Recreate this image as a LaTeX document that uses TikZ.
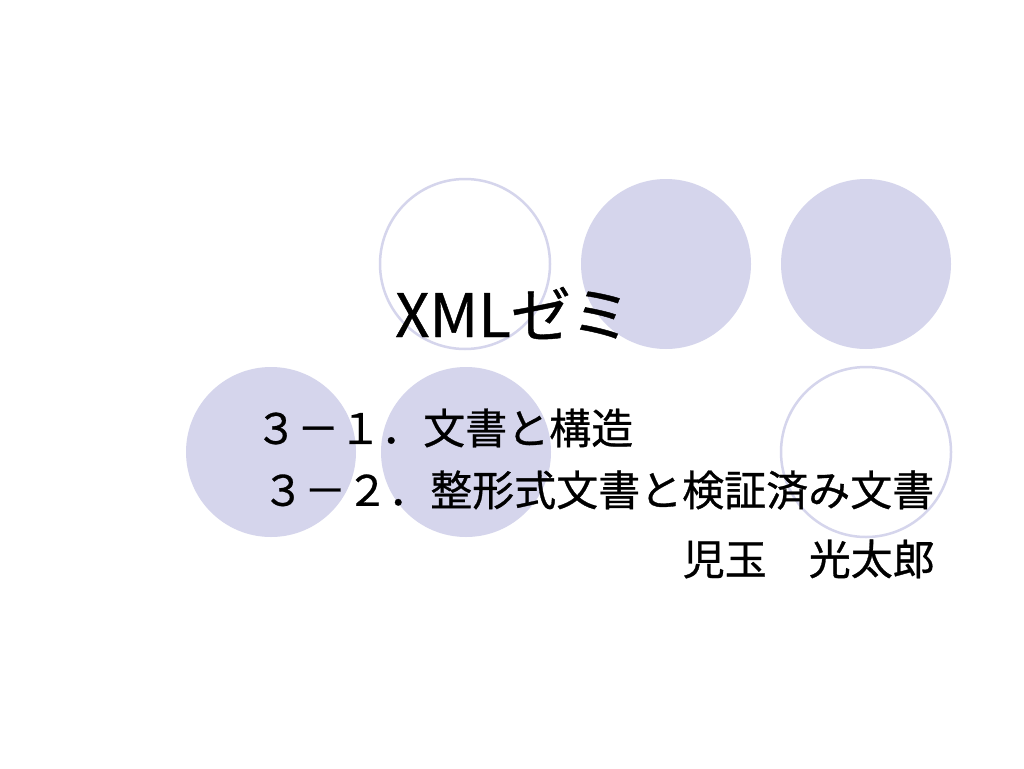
\documentclass[tikz,border=0pt]{standalone}
\usepackage{fontspec}
\setmainfont[FakeBold=0.7]{Noto Sans CJK JP}
\definecolor{lav}{HTML}{D5D5EC}
\tikzset{
  disc/.style={fill=lav},
  ring/.style={draw=lav, line width=2.5pt},
  line/.style={inner sep=0pt, font=\fontsize{42}{46}\selectfont}
}
\begin{document}
\begin{tikzpicture}[x=1pt, y=-1pt]
\useasboundingbox[fill=white] (0,0) rectangle (1024,768);
% top row
\draw[ring] (465,264) circle (85pt);
\fill[disc] (666,264) circle (85pt);
\fill[disc] (866,264) circle (85pt);
% bottom row
\fill[disc] (271,452) circle (85pt);
\fill[disc] (466,452) circle (85pt);
\draw[ring] (866,452) circle (85pt);
% texts
\node[inner sep=0pt, font=\fontsize{60}{66}\selectfont] (title) at (513,313) {XMLゼミ};
\node[line, anchor=west] (part1) at (255,428) {３－１．文書と構造};
\node[line, anchor=west] (part2) at (262,490) {３－２．整形式文書と検証済み文書};
\node[line, anchor=east] (author) at (935,559) {児玉　光太郎};
\end{tikzpicture}
\end{document}
